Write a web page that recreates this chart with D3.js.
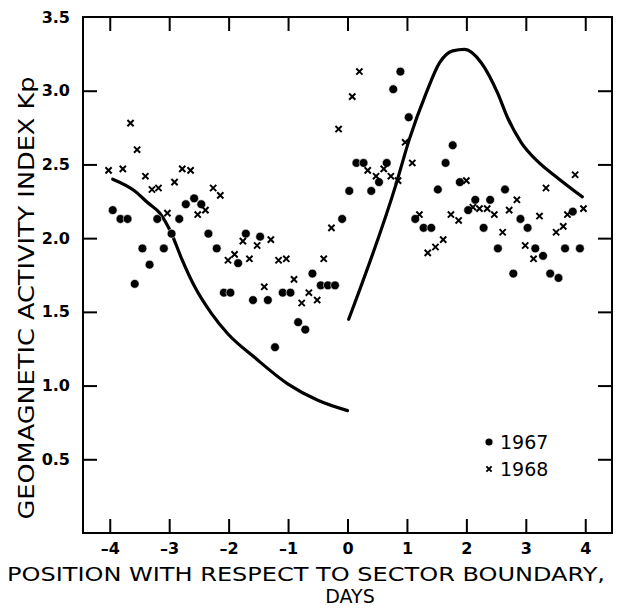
<!DOCTYPE html>
<html><head><meta charset="utf-8">
<script src="https://cdn.jsdelivr.net/npm/d3@7"></script>
<style>body{margin:0;background:#fff}svg{display:block}</style>
</head><body>
<svg id="c" width="618" height="608"></svg>
<script>
// ---- data ----
const xTicks = [-4, -3, -2, -1, 0, 1, 2, 3, 4];
const xTickLabels = ["–4", "–3", "–2", "–1", "0", "1", "2", "3", "4"];
const yTicks = [0.5, 1.0, 1.5, 2.0, 2.5, 3.0, 3.5];
const yTickLabels = ["0.5", "1.0", "1.5", "2.0", "2.5", "3.0", "3.5"];
const seriesNames = ["1967", "1968"];
const kp1967 = [
  [-3.95,2.19],[-3.82,2.13],[-3.70,2.13],[-3.58,1.69],[-3.45,1.93],[-3.33,1.82],[-3.20,2.13],[-3.09,1.93],
  [-2.96,2.03],[-2.83,2.13],[-2.72,2.23],[-2.58,2.27],[-2.46,2.23],[-2.34,2.03],[-2.20,1.93],[-2.08,1.63],
  [-1.97,1.63],[-1.84,1.83],[-1.71,2.03],[-1.59,1.58],[-1.47,2.01],[-1.34,1.58],[-1.22,1.26],[-1.09,1.63],
  [-0.96,1.63],[-0.83,1.43],[-0.71,1.38],[-0.59,1.76],[-0.45,1.68],[-0.33,1.68],[-0.21,1.68],[-0.09,2.13],
  [0.03,2.32],[0.15,2.51],[0.27,2.51],[0.40,2.32],[0.53,2.38],[0.66,2.51],[0.77,3.01],[0.89,3.13],
  [1.03,2.82],[1.14,2.13],[1.28,2.07],[1.41,2.07],[1.52,2.33],[1.65,2.51],[1.77,2.63],[1.89,2.38],
  [2.03,2.19],[2.15,2.26],[2.29,2.07],[2.40,2.26],[2.53,1.93],[2.65,2.33],[2.79,1.76],[2.91,2.13],
  [3.03,2.07],[3.16,1.93],[3.29,1.88],[3.41,1.76],[3.55,1.73],[3.66,1.93],[3.79,2.18],[3.91,1.93]
];
const kp1968 = [
  [-4.02,2.46],[-3.78,2.47],[-3.65,2.78],[-3.54,2.60],[-3.40,2.42],[-3.29,2.33],[-3.18,2.34],[-3.03,2.17],
  [-2.91,2.38],[-2.78,2.47],[-2.64,2.46],[-2.52,2.16],[-2.39,2.19],[-2.26,2.34],[-2.14,2.29],[-2.01,1.85],
  [-1.90,1.89],[-1.76,1.98],[-1.65,1.86],[-1.52,1.95],[-1.40,1.67],[-1.29,1.99],[-1.16,1.85],[-1.03,1.86],
  [-0.90,1.72],[-0.77,1.56],[-0.65,1.63],[-0.51,1.58],[-0.40,1.86],[-0.27,2.07],[-0.15,2.74],[0.08,2.96],
  [0.20,3.13],[0.34,2.46],[0.48,2.42],[0.61,2.47],[0.73,2.42],[0.85,2.39],[0.97,2.65],[1.09,2.51],
  [1.21,2.16],[1.35,1.90],[1.48,1.94],[1.61,1.99],[1.74,2.16],[1.87,2.12],[2.00,2.39],[2.11,2.21],
  [2.22,2.20],[2.35,2.20],[2.47,2.16],[2.61,2.04],[2.72,2.19],[2.85,2.26],[2.99,1.95],[3.13,1.86],
  [3.23,2.15],[3.34,2.34],[3.51,2.04],[3.63,2.08],[3.70,2.16],[3.83,2.43],[3.97,2.20]
];
const modelBefore = [
  [-3.95,2.40],[-3.58,2.32],[-3.36,2.24],[-3.16,2.17],[-2.96,2.03],[-2.80,1.87],[-2.57,1.67],
  [-2.29,1.49],[-2.01,1.35],[-1.56,1.19],[-1.00,1.01],[-0.50,0.90],[0.00,0.83]
];
const modelAfter = [
  [0.02,1.45],[0.82,2.37],[1.04,2.67],[1.32,2.98],[1.55,3.19],[1.77,3.27],[1.97,3.28],
  [2.25,3.19],[2.53,2.98],[2.69,2.82],[2.92,2.65],[3.20,2.52],[3.53,2.41],[3.95,2.28]
];

// ---- layout ----
const svg = d3.select("#c");
const L = 83, R = 612, T = 17, B = 533;
const x = d3.scaleLinear().domain([-4.45, 4.45]).range([L, R]);
const y = d3.scaleLinear().domain([0, 3.5]).range([B, T]);
const font = "'DejaVu Sans', sans-serif";
const tickLen = 14;

// frame
svg.append("rect").attr("x", L).attr("y", T).attr("width", R - L).attr("height", B - T)
  .attr("fill", "none").attr("stroke", "#000").attr("stroke-width", 2);

// axes with inward ticks
const xb = svg.append("g").attr("transform", `translate(0,${B})`)
  .call(d3.axisBottom(x).tickValues(xTicks).tickSize(-tickLen).tickPadding(10)
    .tickFormat((d, i) => xTickLabels[i]));
const xt = svg.append("g").attr("transform", `translate(0,${T})`)
  .call(d3.axisTop(x).tickValues(xTicks).tickSize(-tickLen).tickFormat(""));
const yl = svg.append("g").attr("transform", `translate(${L},0)`)
  .call(d3.axisLeft(y).tickValues(yTicks).tickSize(-tickLen).tickPadding(13)
    .tickFormat((d, i) => yTickLabels[i]));
const yr = svg.append("g").attr("transform", `translate(${R},0)`)
  .call(d3.axisRight(y).tickValues(yTicks.slice(0, -1)).tickSize(-tickLen).tickFormat(""));
[xb, xt, yl, yr].forEach(g => {
  g.select(".domain").remove();
  g.selectAll(".tick line").attr("stroke", "#000").attr("stroke-width", 2);
  g.selectAll(".tick text").attr("fill", "#000").attr("font-family", font)
    .attr("font-weight", "bold").attr("font-size", 16);
});
yl.selectAll(".tick").filter(d => d === 3.5).select("line").remove();

// model curves
const line = d3.line().x(d => x(d[0])).y(d => y(d[1])).curve(d3.curveMonotoneX);
[modelBefore, modelAfter].forEach(s => {
  svg.append("path").attr("d", line(s)).attr("fill", "none")
    .attr("stroke", "#000").attr("stroke-width", 3.2).attr("stroke-linecap", "round");
});

// 1967 dots
svg.append("g").selectAll("circle").data(kp1967).join("circle")
  .attr("cx", d => x(d[0])).attr("cy", d => y(d[1])).attr("r", 4.4)
  .attr("fill", "#000").attr("stroke", "#fff").attr("stroke-width", 0.6);

// 1968 crosses
const cr = 3.1;
const crossPath = (cx, cy, s) => `M${cx - s},${cy - s}L${cx + s},${cy + s}M${cx - s},${cy + s}L${cx + s},${cy - s}`;
svg.append("g").selectAll("path").data(kp1968).join("path")
  .attr("d", d => crossPath(x(d[0]), y(d[1]), cr))
  .attr("stroke", "#000").attr("stroke-width", 2).attr("fill", "none");

// legend
const lg = svg.append("g").attr("font-family", font).attr("font-size", 19).attr("fill", "#000");
lg.append("circle").attr("cx", 489).attr("cy", 442).attr("r", 3.6).attr("fill", "#000");
lg.append("text").attr("x", 500).attr("y", 449).text(seriesNames[0]);
lg.append("path").attr("d", crossPath(489, 469, 2.6)).attr("stroke", "#000").attr("stroke-width", 2);
lg.append("text").attr("x", 500).attr("y", 476).text(seriesNames[1]);

// axis titles
svg.append("text").attr("x", 306).attr("y", 581).attr("text-anchor", "middle")
  .attr("font-family", font).attr("font-size", 20).attr("fill", "#000")
  .attr("textLength", 598).attr("lengthAdjust", "spacingAndGlyphs")
  .text("POSITION WITH RESPECT TO SECTOR BOUNDARY,");
svg.append("text").attr("x", 350).attr("y", 603).attr("text-anchor", "middle")
  .attr("font-family", font).attr("font-size", 19).attr("fill", "#000")
  .text("DAYS");
svg.append("text").attr("transform", "translate(34,298) rotate(-90)").attr("text-anchor", "middle")
  .attr("font-family", font).attr("font-size", 22).attr("fill", "#000")
  .attr("textLength", 443).attr("lengthAdjust", "spacingAndGlyphs")
  .text("GEOMAGNETIC ACTIVITY INDEX Kp");
</script>
</body></html>
